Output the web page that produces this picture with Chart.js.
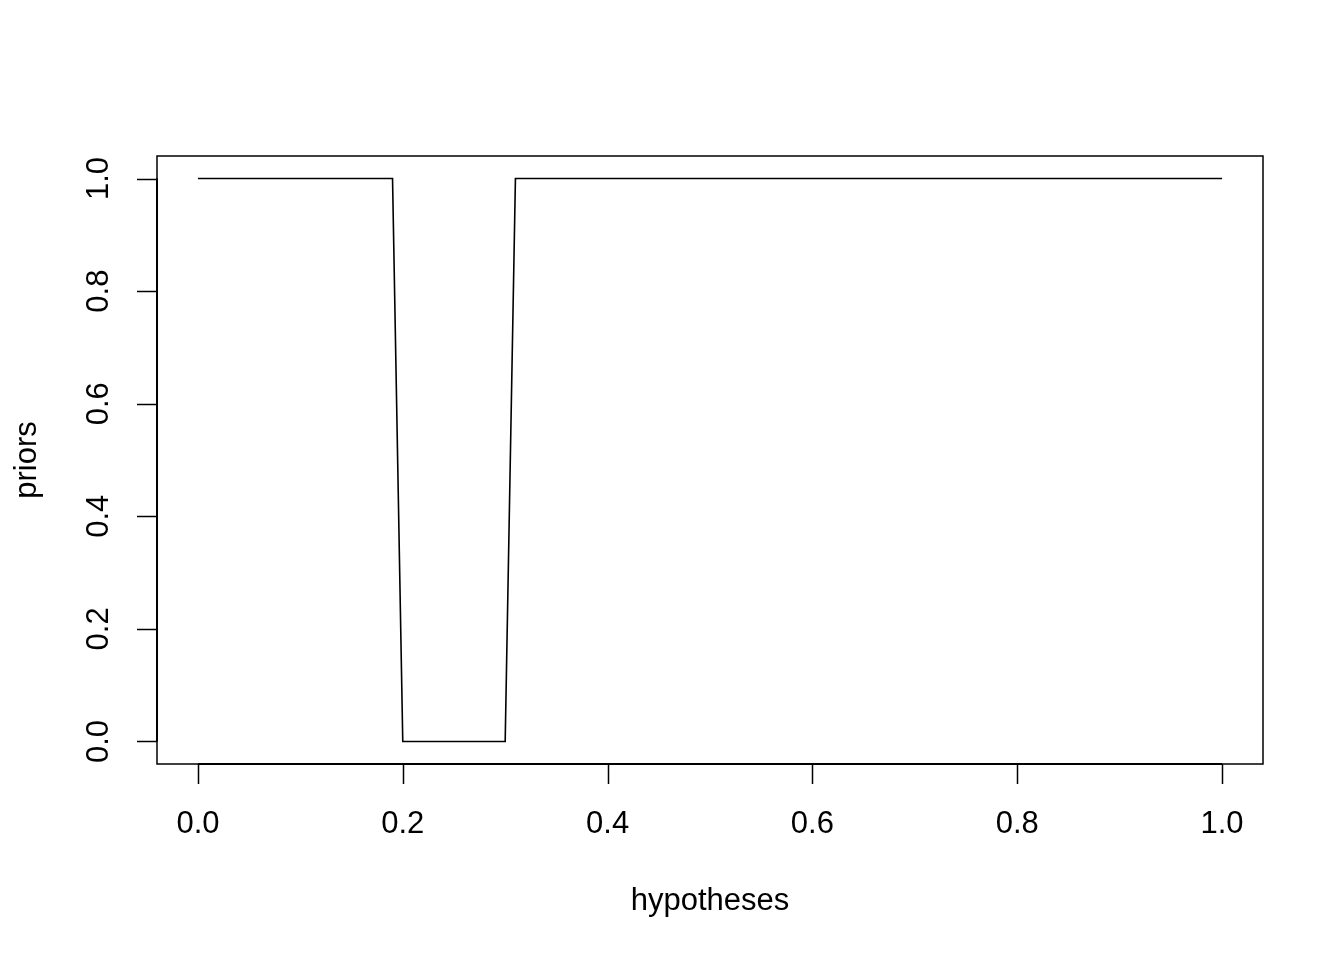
<!DOCTYPE html>
<html>
<head>
<meta charset="utf-8">
<script src="https://cdn.jsdelivr.net/npm/chart.js@4/dist/chart.umd.min.js"></script>
<style>
html,body{margin:0;padding:0;background:#fff;}
#wrap{width:1344px;height:960px;position:relative;}
</style>
</head>
<body>
<div id="wrap"><canvas id="c" width="1344" height="960"></canvas></div>
<script>
const hypotheses = [0.00,0.01,0.02,0.03,0.04,0.05,0.06,0.07,0.08,0.09,
  0.10,0.11,0.12,0.13,0.14,0.15,0.16,0.17,0.18,0.19,
  0.20,0.21,0.22,0.23,0.24,0.25,0.26,0.27,0.28,0.29,
  0.30,0.31,0.32,0.33,0.34,0.35,0.36,0.37,0.38,0.39,
  0.40,0.41,0.42,0.43,0.44,0.45,0.46,0.47,0.48,0.49,
  0.50,0.51,0.52,0.53,0.54,0.55,0.56,0.57,0.58,0.59,
  0.60,0.61,0.62,0.63,0.64,0.65,0.66,0.67,0.68,0.69,
  0.70,0.71,0.72,0.73,0.74,0.75,0.76,0.77,0.78,0.79,
  0.80,0.81,0.82,0.83,0.84,0.85,0.86,0.87,0.88,0.89,
  0.90,0.91,0.92,0.93,0.94,0.95,0.96,0.97,0.98,0.99,1.00];
const priors = [1,1,1,1,1,1,1,1,1,1,
  1,1,1,1,1,1,1,1,1,1,
  0,0,0,0,0,0,0,0,0,0,
  0,1,1,1,1,1,1,1,1,1,
  1,1,1,1,1,1,1,1,1,1,
  1,1,1,1,1,1,1,1,1,1,
  1,1,1,1,1,1,1,1,1,1,
  1,1,1,1,1,1,1,1,1,1,
  1,1,1,1,1,1,1,1,1,1,
  1,1,1,1,1,1,1,1,1,1,1];
const xTicks = [0.0,0.2,0.4,0.6,0.8,1.0];
const yTicks = [0.0,0.2,0.4,0.6,0.8,1.0];
const xTickLabels = ["0.0","0.2","0.4","0.6","0.8","1.0"];
const yTickLabels = ["0.0","0.2","0.4","0.6","0.8","1.0"];
const xTitle = "hypotheses";
const yTitle = "priors";

const FONT = '31px "Liberation Sans", Arial, Helvetica, sans-serif';

const rPlot = {
  id: 'rPlot',
  afterDraw(chart) {
    const ctx = chart.ctx;
    const a = chart.chartArea;
    const xs = chart.scales.x, ys = chart.scales.y;
    ctx.save();
    ctx.strokeStyle = '#000';
    ctx.lineWidth = 1.5;
    ctx.strokeRect(a.left, a.top, a.right - a.left, a.bottom - a.top);
    ctx.lineWidth = 2;
    ctx.beginPath();
    ctx.moveTo(xs.getPixelForValue(xTicks[0]), a.bottom);
    ctx.lineTo(xs.getPixelForValue(xTicks[xTicks.length-1]), a.bottom);
    ctx.stroke();
    ctx.beginPath();
    ctx.moveTo(a.left, ys.getPixelForValue(yTicks[0]));
    ctx.lineTo(a.left, ys.getPixelForValue(yTicks[yTicks.length-1]));
    ctx.stroke();
    ctx.lineWidth = 1.5;
    ctx.beginPath();
    xTicks.forEach(v => {
      const px = Math.round(xs.getPixelForValue(v)) + 0.5;
      ctx.moveTo(px, a.bottom); ctx.lineTo(px, a.bottom + 20);
    });
    yTicks.forEach(v => {
      const py = Math.round(ys.getPixelForValue(v)) + 0.5;
      ctx.moveTo(a.left, py); ctx.lineTo(a.left - 20, py);
    });
    ctx.stroke();
    ctx.fillStyle = '#000';
    ctx.font = FONT;
    ctx.textAlign = 'center';
    ctx.textBaseline = 'middle';
    xTicks.forEach((v, i) => {
      ctx.fillText(xTickLabels[i], xs.getPixelForValue(v), a.bottom + 60);
    });
    yTicks.forEach((v, i) => {
      ctx.save();
      ctx.translate(a.left - 58, ys.getPixelForValue(v));
      ctx.rotate(-Math.PI / 2);
      ctx.fillText(yTickLabels[i], 0, 0);
      ctx.restore();
    });
    ctx.fillText(xTitle, (a.left + a.right) / 2, a.bottom + 137);
    ctx.save();
    ctx.translate(a.left - 130, (a.top + a.bottom) / 2);
    ctx.rotate(-Math.PI / 2);
    ctx.fillText(yTitle, 0, 0);
    ctx.restore();
    ctx.restore();
  }
};

new Chart(document.getElementById('c'), {
  type: 'line',
  data: {
    datasets: [{
      data: hypotheses.map((h, i) => ({x: h, y: priors[i]})),
      borderColor: '#000',
      borderWidth: 1.6,
      pointRadius: 0,
      tension: 0,
      fill: false
    }]
  },
  options: {
    responsive: false,
    animation: false,
    devicePixelRatio: 1,
    layout: {padding: {left: 0, right: 81, top: 156, bottom: 0}},
    plugins: {legend: {display: false}, tooltip: {enabled: false}},
    scales: {
      x: {
        type: 'linear', min: -0.04, max: 1.04,
        grid: {display: false}, border: {display: false},
        ticks: {display: false},
        afterFit(s) { s.height = 196; }
      },
      y: {
        type: 'linear', min: -0.04, max: 1.04,
        grid: {display: false}, border: {display: false},
        ticks: {display: false},
        afterFit(s) { s.width = 157; }
      }
    }
  },
  plugins: [rPlot]
});
</script>
</body>
</html>
